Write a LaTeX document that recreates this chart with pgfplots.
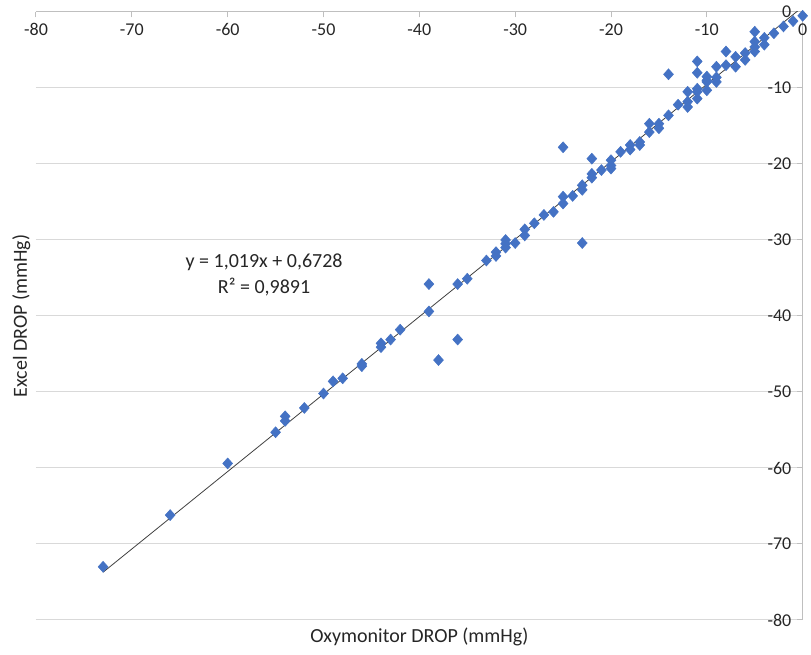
\documentclass[border=0pt]{standalone}
\usepackage{pgfplots}
\pgfplotsset{compat=1.18}
\usepackage{fontspec}
\setmainfont{Carlito}
\definecolor{mk}{RGB}{68,114,196}
\definecolor{gridc}{RGB}{217,217,217}
\definecolor{axc}{RGB}{191,191,191}
\begin{document}
\begin{tikzpicture}
\begin{axis}[
  scale only axis, width=575pt, height=456pt,
  xmin=-80, xmax=0, ymin=-80, ymax=0,
  enlargelimits=false,
  axis x line=middle, axis y line=middle,
  hide obscured x ticks=false, hide obscured y ticks=false,
  axis line style={axc, line width=0.75pt, -},
  xtick={-80,-70,...,0}, ytick={-80,-70,...,0},
  ymajorgrids, grid style={gridc, line width=0.75pt},
  major tick length=4pt,
  xtick style={axc, line width=0.75pt, yshift=-2pt},
  ytick style={axc, line width=0.75pt, xshift=-2pt},
  /pgf/number format/assume math mode=true,
  tick label style={font=\fontsize{13.5}{15}\selectfont, text=black!85},
  xticklabel style={yshift=-3pt},
  yticklabel style={xshift=-3pt},
  xlabel={Oxymonitor DROP (mmHg)},
  ylabel={Excel DROP (mmHg)},
  label style={font=\fontsize{15}{17}\selectfont, text=black!85},
  xlabel style={at={(axis description cs:0.5,-0.0274)}, anchor=center},
  ylabel style={at={(axis description cs:-0.0192,0.5)}, anchor=center, rotate=90},
  clip=true,
]
\addplot[black!75, line width=0.6pt] coordinates {(-73,-73.714) (0,0.6728)};
\addplot[only marks, mark=diamond*, mark size=4.1pt, mark options={fill=mk, draw=mk, xscale=1.2}] coordinates {
(0,-0.5) (-1,-1.2) (-2,-1.9) (-3,-2.8) (-4,-3.4) (-4,-4.3)
(-5,-2.6) (-5,-3.9) (-5,-5.2) (-5,-4.6) (-6,-5.4) (-6,-6.3)
(-7,-5.9) (-7,-7.2) (-8,-5.2) (-8,-7.0) (-9,-7.2) (-9,-9.2) (-9,-8.6)
(-10,-8.5) (-10,-9.2) (-10,-10.3) (-10,-9.0)
(-11,-6.5) (-11,-8.0) (-11,-10.1) (-11,-11.4) (-11,-10.5)
(-12,-10.5) (-12,-12.5) (-12,-11.8) (-13,-12.2)
(-14,-8.2) (-14,-13.6) (-15,-14.7) (-15,-15.3) (-16,-14.7) (-16,-15.8)
(-17,-17.1) (-17,-17.5) (-18,-17.5) (-18,-18.1) (-19,-18.4)
(-20,-19.5) (-20,-20.6) (-20,-20.2) (-21,-20.8)
(-22,-19.3) (-22,-21.3) (-22,-21.8)
(-23,-22.8) (-23,-23.4) (-23,-30.4) (-24,-24.2)
(-25,-17.8) (-25,-24.3) (-25,-25.2) (-26,-26.3) (-27,-26.7) (-28,-27.8)
(-29,-28.6) (-29,-29.4) (-30,-30.4) (-31,-30.0) (-31,-31.0) (-31,-30.5)
(-32,-31.6) (-32,-32.1) (-33,-32.7) (-35,-35.1) (-36,-35.8) (-36,-43.1)
(-38,-45.8) (-39,-35.8) (-39,-39.4) (-42,-41.8) (-43,-43.1)
(-44,-43.6) (-44,-44.1) (-46,-46.3) (-46,-46.6) (-48,-48.2) (-49,-48.6)
(-50,-50.2) (-52,-52.1) (-54,-53.2) (-54,-53.8) (-55,-55.3)
(-60,-59.4) (-66,-66.2) (-73,-73.0)
};
\node[font=\fontsize{15}{17}\selectfont, text=black!85] at (axis cs:-56.2,-32.9) {y = 1,019x + 0,6728};
\node[font=\fontsize{15}{17}\selectfont, text=black!85] at (axis cs:-56.2,-36.2) {R² = 0,9891};
\end{axis}
\pgfresetboundingbox
\path[use as bounding box] (-27pt,-26.25pt) rectangle (581.25pt,465pt);
\end{tikzpicture}
\end{document}
